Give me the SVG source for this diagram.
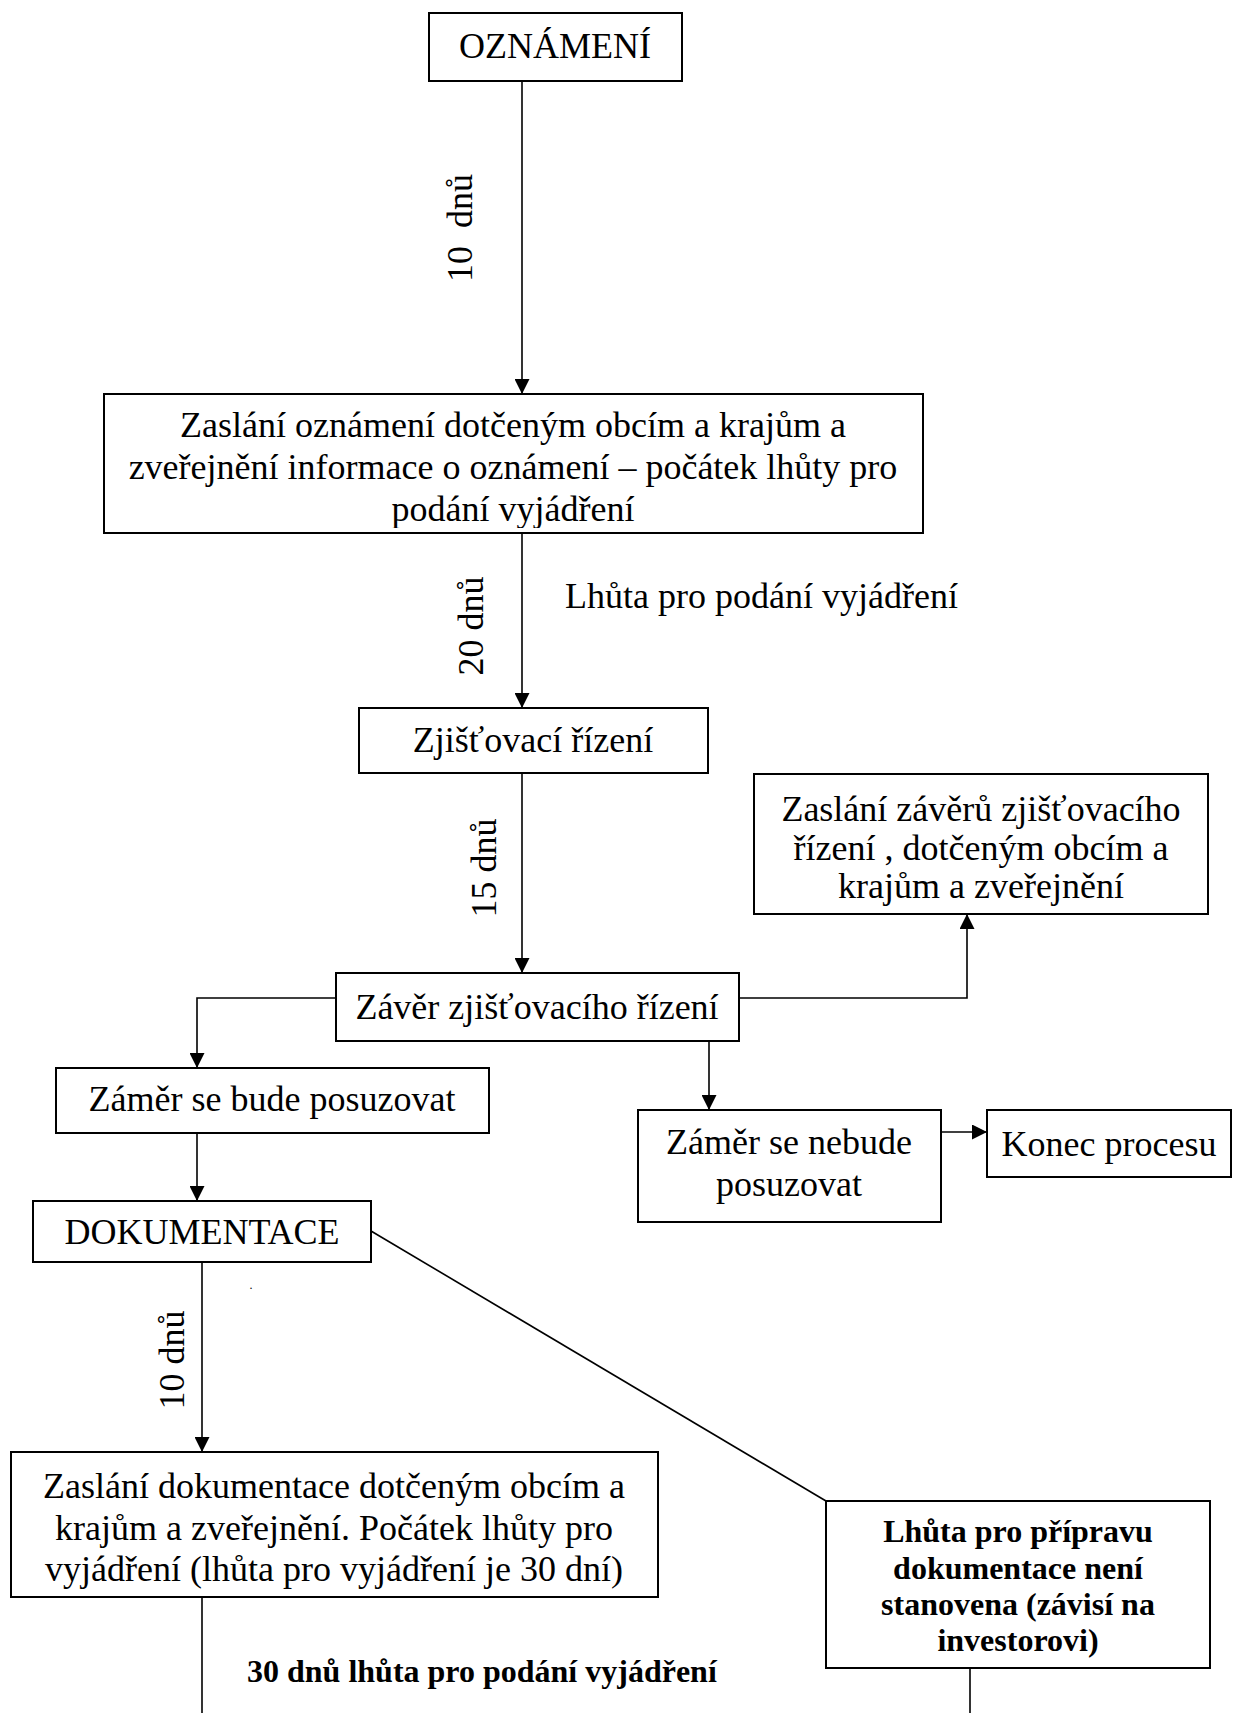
<svg xmlns="http://www.w3.org/2000/svg" width="1234" height="1713" viewBox="0 0 1234 1713">
<style>
  .box { fill: #ffffff; stroke: #000000; stroke-width: 2; }
  .t { font-family: "Liberation Serif", "Times New Roman", serif; font-size: 36px; fill: #000000; text-anchor: middle; }
  .b { font-family: "Liberation Serif", "Times New Roman", serif; font-size: 32px; font-weight: bold; fill: #000000; text-anchor: middle; }
  .tl { text-anchor: start; }
  .c { fill: none; stroke: #000000; stroke-width: 1.6; }
</style>
<defs>
  <marker id="ah" viewBox="0 0 10 10" refX="10" refY="5" markerWidth="15" markerHeight="15" markerUnits="userSpaceOnUse" orient="auto">
    <path d="M0,0 L10,5 L0,10 Z" fill="#000000"/>
  </marker>
  <clipPath id="clip2"><rect x="105" y="395" width="817" height="133"/></clipPath>
</defs>
<rect x="0" y="0" width="1234" height="1713" fill="#ffffff"/>

<g id="connectors">
  <line class="c" x1="522" y1="81" x2="522" y2="394" marker-end="url(#ah)"/>
  <line class="c" x1="522" y1="533" x2="522" y2="708" marker-end="url(#ah)"/>
  <line class="c" x1="522" y1="773" x2="522" y2="973" marker-end="url(#ah)"/>
  <polyline class="c" points="739,998 967,998 967,914" marker-end="url(#ah)"/>
  <polyline class="c" points="336,998 197,998 197,1068" marker-end="url(#ah)"/>
  <line class="c" x1="709" y1="1041" x2="709" y2="1110" marker-end="url(#ah)"/>
  <line class="c" x1="941" y1="1132" x2="987" y2="1132" marker-end="url(#ah)"/>
  <line class="c" x1="197" y1="1133" x2="197" y2="1201" marker-end="url(#ah)"/>
  <line class="c" x1="202" y1="1262" x2="202" y2="1452" marker-end="url(#ah)"/>
  <line class="c" x1="371" y1="1231" x2="826" y2="1501"/>
  <line class="c" x1="202" y1="1597" x2="202" y2="1713"/>
  <line class="c" x1="970" y1="1668" x2="970" y2="1713"/>
</g>

<g id="labels">
  <text class="t" transform="translate(472,228) rotate(-90)" xml:space="preserve">10  dnů</text>
  <text class="t" transform="translate(483,626) rotate(-90)">20 dnů</text>
  <text class="t tl" x="565" y="608">Lhůta pro podání vyjádření</text>
  <text class="t" transform="translate(496,868) rotate(-90)">15 dnů</text>
  <text class="t" transform="translate(184,1360) rotate(-90)">10 dnů</text>
  <text class="t" x="251" y="1289" style="font-size:12px">.</text>
  <text class="b tl" x="247" y="1682">30 dnů lhůta pro podání vyjádření</text>
</g>

<g id="n-oznameni">
  <rect class="box" x="429" y="13" width="253" height="68"/>
  <text class="t" x="555" y="58">OZNÁMENÍ</text>
</g>

<g id="n-zaslani-oznameni">
  <rect class="box" x="104" y="394" width="819" height="139"/>
  <g clip-path="url(#clip2)">
    <text class="t" x="513" y="437">Zaslání oznámení dotčeným obcím a krajům a</text>
    <text class="t" x="513" y="479">zveřejnění informace o oznámení – počátek lhůty pro</text>
    <text class="t" x="513" y="521">podání vyjádření</text>
  </g>
</g>

<g id="n-zjistovaci">
  <rect class="box" x="359" y="708" width="349" height="65"/>
  <text class="t" x="533" y="752">Zjišťovací řízení</text>
</g>

<g id="n-zaslani-zaveru">
  <rect class="box" x="754" y="774" width="454" height="140"/>
  <text class="t" x="981" y="821">Zaslání závěrů zjišťovacího</text>
  <text class="t" x="981" y="860">řízení , dotčeným obcím a</text>
  <text class="t" x="981" y="898">krajům a zveřejnění</text>
</g>

<g id="n-zaver">
  <rect class="box" x="336" y="973" width="403" height="68"/>
  <text class="t" x="537" y="1019">Závěr zjišťovacího řízení</text>
</g>

<g id="n-bude">
  <rect class="box" x="56" y="1068" width="433" height="65"/>
  <text class="t" x="272" y="1111">Záměr se bude posuzovat</text>
</g>

<g id="n-nebude">
  <rect class="box" x="638" y="1110" width="303" height="112"/>
  <text class="t" x="789" y="1154">Záměr se nebude</text>
  <text class="t" x="789" y="1196">posuzovat</text>
</g>

<g id="n-konec">
  <rect class="box" x="987" y="1110" width="244" height="67"/>
  <text class="t" x="1109" y="1156">Konec procesu</text>
</g>

<g id="n-dokumentace">
  <rect class="box" x="33" y="1201" width="338" height="61"/>
  <text class="t" x="202" y="1244">DOKUMENTACE</text>
</g>

<g id="n-zaslani-dokumentace">
  <rect class="box" x="11" y="1452" width="647" height="145"/>
  <text class="t" x="334" y="1498">Zaslání dokumentace dotčeným obcím a</text>
  <text class="t" x="334" y="1540">krajům a zveřejnění. Počátek lhůty pro</text>
  <text class="t" x="334" y="1581">vyjádření (lhůta pro vyjádření je 30 dní)</text>
</g>

<g id="n-lhuta-priprava">
  <rect class="box" x="826" y="1501" width="384" height="167"/>
  <text class="b" x="1018" y="1542">Lhůta pro přípravu</text>
  <text class="b" x="1018" y="1579">dokumentace není</text>
  <text class="b" x="1018" y="1615">stanovena (závisí na</text>
  <text class="b" x="1018" y="1651">investorovi)</text>
</g>
</svg>
